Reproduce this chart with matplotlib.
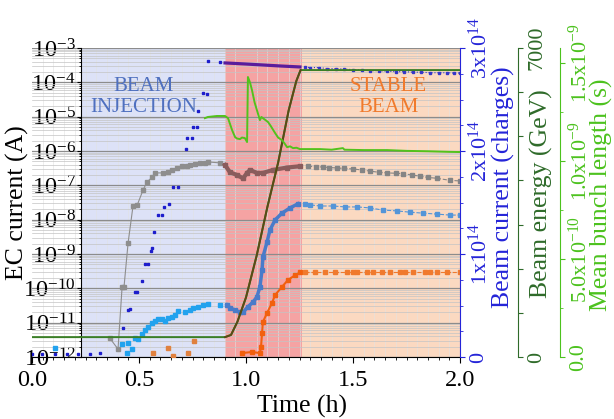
import numpy as np
import matplotlib
matplotlib.use("Agg")
import matplotlib.pyplot as plt
from matplotlib.ticker import (LogLocator, FixedLocator, FixedFormatter,
                               MultipleLocator, NullFormatter, FormatStrFormatter)

# phase boundaries (h)
T_LEFT_SPINE = 0.23
T_RAMP = 0.90
T_STABLE = 1.26

# EC current, detector 1 (grey squares)
grey_t = [0.364, 0.402, 0.421, 0.430, 0.449, 0.472, 0.491, 0.519, 0.537, 0.561,
          0.575, 0.612, 0.636, 0.654, 0.678, 0.701, 0.724, 0.738, 0.762, 0.785,
          0.808, 0.822, 0.879,
          0.902, 0.925, 0.958, 0.986, 1.005, 1.019, 1.051, 1.079, 1.126, 1.192, 1.252,
          1.290, 1.325, 1.360, 1.390, 1.425, 1.460, 1.500, 1.540, 1.579, 1.620,
          1.659, 1.700, 1.734, 1.775, 1.813, 1.850, 1.893, 1.953, 2.000]
grey_v = [3.5e-12, 1.7e-12, 1.1e-10, 1.1e-10, 2.1e-9, 2.5e-8, 2.6e-8, 7.3e-8, 1.25e-7, 1.7e-7,
          2.3e-7, 2.3e-7, 2.4e-7, 2.8e-7, 3.2e-7, 3.6e-7, 3.6e-7, 3.9e-7, 4.2e-7, 4.5e-7,
          4.5e-7, 4.8e-7, 4.5e-7,
          3.9e-7, 2.4e-7, 2.0e-7, 1.6e-7, 2.3e-7, 2.8e-7, 2.3e-7, 2.3e-7, 2.8e-7, 3.3e-7, 3.6e-7,
          3.6e-7, 3.5e-7, 3.4e-7, 3.3e-7, 3.2e-7, 3.1e-7, 3.0e-7, 2.8e-7, 2.6e-7, 2.4e-7,
          2.3e-7, 2.25e-7, 2.2e-7, 2.0e-7, 1.85e-7, 1.7e-7, 1.6e-7, 1.4e-7, 1.34e-7]

# EC current, detector 2 (light blue squares)
lblue_t = [0.107, 0.421, 0.444, 0.449, 0.467, 0.481, 0.495, 0.514, 0.528, 0.542,
           0.561, 0.575, 0.589, 0.607, 0.621, 0.636, 0.654, 0.668, 0.682, 0.715,
           0.738, 0.752, 0.776, 0.799, 0.822, 0.879,
           0.911, 0.925, 0.949, 0.972, 0.986, 1.009, 1.033, 1.051, 1.065, 1.075,
           1.079, 1.098, 1.112, 1.136, 1.168, 1.206, 1.243,
           1.276, 1.299, 1.346, 1.407, 1.463, 1.519, 1.579, 1.640, 1.706, 1.766,
           1.827, 1.893, 1.953, 2.000]
lblue_v = [1.8e-12, 2.4e-12, 1.3e-12, 2.6e-12, 1.7e-12, 3.5e-12, 3.3e-12, 4.7e-12, 6.1e-12, 7.5e-12,
           9.7e-12, 1.1e-11, 1.3e-11, 1.3e-11, 1.1e-11, 1.4e-11, 1.46e-11, 1.7e-11, 2.2e-11, 2.0e-11,
           2.3e-11, 2.7e-11, 2.9e-11, 3.3e-11, 3.5e-11, 3.3e-11,
           3.3e-11, 2.7e-11, 2.3e-11, 2.0e-11, 2.0e-11, 2.9e-11, 4.0e-11, 5.6e-11, 1.1e-10, 3.4e-10,
           8.1e-10, 2.2e-9, 5.0e-9, 9.8e-9, 1.55e-8, 2.2e-8, 2.9e-8,
           2.9e-8, 2.7e-8, 2.5e-8, 2.5e-8, 2.35e-8, 2.35e-8, 2.2e-8, 1.9e-8, 1.8e-8, 1.65e-8,
           1.55e-8, 1.45e-8, 1.36e-8, 1.36e-8]

# EC current, detector 3 (orange squares)
orange_t = [0.565, 0.636, 0.659, 0.729, 0.757,
            0.981, 1.028, 1.065, 1.070, 1.075, 1.079, 1.098, 1.121, 1.136, 1.168,
            1.196, 1.229, 1.252,
            1.276, 1.322, 1.369, 1.416, 1.472, 1.500, 1.519, 1.565, 1.593, 1.636,
            1.673, 1.720, 1.743, 1.780, 1.836, 1.860, 1.893, 1.939, 2.000]
orange_v = [1.3e-12, 1.8e-12, 1.07e-12, 1.3e-12, 2.9e-12,
            1.3e-12, 1.4e-12, 1.3e-12, 1.9e-12, 5.0e-12, 1.05e-11, 1.9e-11, 3.7e-11, 6.4e-11, 1.1e-10,
            1.75e-10, 2.4e-10, 2.9e-10,
            2.9e-10, 2.9e-10, 2.9e-10, 2.9e-10, 2.9e-10, 2.9e-10, 2.9e-10, 2.9e-10, 2.9e-10, 2.9e-10,
            2.9e-10, 2.9e-10, 2.9e-10, 2.9e-10, 2.9e-10, 2.9e-10, 2.9e-10, 2.9e-10, 2.9e-10]

# beam current (charges)
bc_t = [0.000, 0.047, 0.107, 0.164, 0.215, 0.271, 0.318, 0.425, 0.449, 0.458,
        0.481, 0.491, 0.514, 0.528, 0.542, 0.556, 0.561, 0.570, 0.589, 0.607,
        0.617, 0.640, 0.659, 0.682, 0.720, 0.724, 0.748, 0.752, 0.771, 0.776,
        0.799, 0.818, 0.822, 0.879,
        0.902, 0.995, 1.164, 1.252,
        1.276, 1.300, 1.340, 1.380, 1.420, 1.460, 1.500, 1.540, 1.580, 1.620,
        1.660, 1.700, 1.740, 1.780, 1.820, 1.860, 1.900, 1.940, 1.970, 2.000]
bc_v = [0.03e14, 0.03e14, 0.03e14, 0.03e14, 0.03e14, 0.03e14, 0.04e14, 0.28e14, 0.46e14, 0.47e14,
        0.63e14, 0.63e14, 0.74e14, 0.90e14, 0.90e14, 1.03e14, 1.06e14, 1.21e14, 1.38e14, 1.38e14,
        1.46e14, 1.49e14, 1.65e14, 1.65e14, 2.02e14, 2.13e14, 2.13e14, 2.23e14, 2.23e14, 2.39e14,
        2.56e14, 2.55e14, 2.87e14, 2.86e14,
        2.855e14, 2.845e14, 2.825e14, 2.816e14,
        2.815e14, 2.81e14, 2.81e14, 2.80e14, 2.80e14, 2.795e14, 2.79e14, 2.785e14, 2.78e14, 2.78e14,
        2.775e14, 2.77e14, 2.77e14, 2.765e14, 2.765e14, 2.76e14, 2.76e14, 2.76e14, 2.757e14, 2.757e14]

# beam energy (GeV)
en_t = [0.000, 0.902, 0.930, 0.960, 1.000, 1.050, 1.100, 1.150, 1.200, 1.235, 1.255, 2.000]
en_v = [450, 450, 500, 800, 1350, 2300, 3400, 4400, 5600, 6250, 6500, 6500]

# mean bunch length (s)
bl_t = [0.808, 0.822, 0.864, 0.902, 0.916, 0.935, 0.949, 0.958, 0.972, 0.981,
        0.995, 1.005, 1.009, 1.019, 1.028, 1.040, 1.051, 1.065, 1.072, 1.079,
        1.090, 1.103, 1.115, 1.136, 1.150, 1.168, 1.180, 1.192, 1.206, 1.220,
        1.236, 1.252, 1.285, 1.346, 1.400, 1.453, 1.460, 1.550, 1.659, 1.750,
        1.850, 1.950, 2.000]
bl_v = [1.219e-9, 1.225e-9, 1.230e-9, 1.230e-9, 1.219e-9, 1.158e-9, 1.122e-9, 1.115e-9, 1.112e-9, 1.120e-9,
        1.117e-9, 1.097e-9, 1.429e-9, 1.400e-9, 1.362e-9, 1.300e-9, 1.260e-9, 1.209e-9, 1.225e-9, 1.219e-9,
        1.210e-9, 1.199e-9, 1.180e-9, 1.143e-9, 1.120e-9, 1.107e-9, 1.090e-9, 1.071e-9, 1.075e-9, 1.066e-9,
        1.068e-9, 1.061e-9, 1.061e-9, 1.061e-9, 1.058e-9, 1.066e-9, 1.058e-9, 1.056e-9, 1.056e-9, 1.052e-9,
        1.050e-9, 1.047e-9, 1.046e-9]

x_ticks = [0.0, 0.5, 1.0, 1.5, 2.0]
bc_ticks = [0, 1e14, 2e14, 3e14]
bc_labels = ["0", r"$\mathdefault{1x10^{14}}$", r"$\mathdefault{2x10^{14}}$", r"$\mathdefault{3x10^{14}}$"]
en_ticks = [0, 1000, 2000, 3000, 4000, 5000, 6000, 7000]
en_labels = ["0", "", "", "", "", "", "", "7000"]
bl_ticks = [0, 5e-10, 1e-9, 1.5e-9]
bl_labels = ["0.0", r"$\mathdefault{5.0x10^{-10}}$", r"$\mathdefault{1.0x10^{-9}}$", r"$\mathdefault{1.5x10^{-9}}$"]

plt.rcParams["font.family"] = "Liberation Serif"
plt.rcParams["mathtext.fontset"] = "stix"

BLUE = "#2424d8"
DKGREEN = "#2f6b2a"
LTGREEN = "#4cc21e"


def phases(t):
    t = np.asarray(t)
    return [t < T_RAMP, (t >= T_RAMP) & (t < T_STABLE), t >= T_STABLE]


fig = plt.figure(figsize=(6.14, 4.19), dpi=100)
L, R, B, T = 32 / 614, 460 / 614, (419 - 357) / 419, (419 - 48) / 419
ax = fig.add_axes([L, B, R - L, T - B])

# background phases
ax.axvspan(T_LEFT_SPINE, T_RAMP, color="#dde2f7", lw=0, zorder=0)
ax.axvspan(T_RAMP, T_STABLE, color="#f5a3a3", lw=0, zorder=0)
ax.axvspan(T_STABLE, 2.0, color="#fbd9c1", lw=0, zorder=0)

ax.set_yscale("log")
ax.set_xlim(0, 2)
ax.set_ylim(1e-12, 1e-3)
ax.set_axisbelow("line")
ax.yaxis.set_major_locator(LogLocator(base=10, numticks=20))
ax.yaxis.set_minor_locator(LogLocator(base=10, subs=np.arange(2, 10), numticks=100))
ax.yaxis.set_minor_formatter(NullFormatter())
ax.grid(which="major", axis="y", color="#8c8c8c", lw=0.9)
ax.grid(which="minor", axis="y", color="#c4c4c4", lw=0.5)
ax.xaxis.set_minor_locator(MultipleLocator(0.05))
ax.grid(which="minor", axis="x", color="#e2e2e2", lw=0.4)
ax.xaxis.set_major_locator(FixedLocator(x_ticks))
ax.xaxis.set_major_formatter(FormatStrFormatter("%.1f"))

ax.spines["left"].set_position(("data", T_LEFT_SPINE))
ax.spines["top"].set_visible(False)
ax.spines["right"].set_visible(False)
ax.tick_params(axis="y", which="major", labelsize=17.5, length=3, pad=1)
ax.tick_params(axis="y", which="minor", length=1.5)
ax.tick_params(axis="x", which="major", labelsize=17.5, length=4, pad=5)
ax.tick_params(axis="x", which="minor", length=2)

# EC currents, coloured by phase
gt, gv = np.array(grey_t), np.array(grey_v)
m = phases(gt)
ax.plot(gt[m[0]], gv[m[0]], color="#8e8e8e", lw=0.8, marker="s", ms=3.2, zorder=3)
ax.plot(gt[m[1]], gv[m[1]], color="#8a5c5c", lw=3, marker="s", ms=3, zorder=3)
ax.plot(gt[m[2]], gv[m[2]], color="#858585", lw=0.8, ls="--", marker="s", ms=3, zorder=3)

lt, lv = np.array(lblue_t), np.array(lblue_v)
m = phases(lt)
ax.plot(lt[m[0]], lv[m[0]], color="#22a2ee", ls="none", marker="s", ms=3.3, zorder=3)
ax.plot(lt[m[1]], lv[m[1]], color="#4a7bc9", lw=2.5, marker="s", ms=3.3, zorder=3)
ax.plot(lt[m[2]], lv[m[2]], color="#5495d8", lw=0.8, ls="--", marker="s", ms=3.3, zorder=3)

ot, ov = np.array(orange_t), np.array(orange_v)
m = phases(ot)
ax.plot(ot[m[0]], ov[m[0]], color="#e0813f", ls="none", marker="s", ms=3.3, zorder=3)
ax.plot(ot[m[1]], ov[m[1]], color="#f2600e", lw=1.5, marker="s", ms=3.3, zorder=3)
ax.plot(ot[m[2]], ov[m[2]], color="#f07a2e", lw=0.8, ls="--", marker="s", ms=3.3, zorder=3)

ax.text(0.523, 10 ** -4.43, "BEAM\nINJECTION", color="#4f70bf", fontsize=15,
        ha="center", va="center", linespacing=1.15)
ax.text(1.664, 10 ** -4.43, "STABLE\nBEAM", color="#f07a2c", fontsize=15,
        ha="center", va="center", linespacing=1.15)

ax.set_ylabel("EC current (A)", fontsize=18.5)
ax.yaxis.set_label_coords(-0.006, 0.5)
ax.set_xlabel("Time (h)", fontsize=18.5)
ax.xaxis.set_label_coords(0.631, -0.122)

# beam current axis
ax2 = ax.twinx()
ax2.set_ylim(0, 3e14)
for s in ["top", "bottom", "left"]:
    ax2.spines[s].set_visible(False)
ax2.spines["right"].set_color(BLUE)
ax2.yaxis.set_major_locator(FixedLocator(bc_ticks))
ax2.yaxis.set_major_formatter(FixedFormatter(bc_labels))
ax2.yaxis.set_minor_locator(MultipleLocator(0.25e14))
ax2.tick_params(axis="y", which="both", colors=BLUE, labelsize=16, labelrotation=90, pad=3)
ax2.tick_params(axis="y", which="minor", length=2)
for lab in ax2.get_yticklabels():
    lab.set_va("center")
bt, bv = np.array(bc_t), np.array(bc_v)
m = phases(bt)
ax2.plot(bt[m[0]], bv[m[0]], color="#1d1dcc", ls="none", marker="s", ms=1.8)
ax2.plot(bt[m[1]], bv[m[1]], color="#5a1c9c", lw=2.3)
ax2.plot(bt[m[2]], bv[m[2]], color="#3636c8", lw=0.8, ls=":", marker="s", ms=1.8)
ax2.set_ylabel("Beam current (charges)", fontsize=18.5, color=BLUE)
ax2.yaxis.set_label_coords(1.075, 0.55)

# beam energy axis
ax3 = ax.twinx()
ax3.set_ylim(0, 7000)
for s in ["top", "bottom", "left"]:
    ax3.spines[s].set_visible(False)
ax3.spines["right"].set_position(("axes", (518 - 32) / 428))
ax3.spines["right"].set_color(DKGREEN)
ax3.yaxis.set_major_locator(FixedLocator(en_ticks))
ax3.yaxis.set_major_formatter(FixedFormatter(en_labels))
ax3.tick_params(axis="y", colors=DKGREEN, labelsize=16, labelrotation=90, pad=3)
for lab in ax3.get_yticklabels():
    lab.set_va("center")
et, ev = np.array(en_t), np.array(en_v)
ax3.plot(et, ev, color="#3a7f26", lw=1.4)
m = (et >= T_RAMP) & (et <= 1.26)
ax3.plot(et[m], ev[m], color="#5a4a16", lw=1.4)
ax3.set_ylabel("Beam energy (GeV)", fontsize=18.5, color=DKGREEN)
ax3.yaxis.set_label_coords((530 - 32) / 428, 0.53)

# bunch length axis
ax4 = ax.twinx()
ax4.set_ylim(0, 1.577e-9)
for s in ["top", "bottom", "left"]:
    ax4.spines[s].set_visible(False)
ax4.spines["right"].set_position(("axes", (560 - 32) / 428))
ax4.spines["right"].set_color(LTGREEN)
ax4.yaxis.set_major_locator(FixedLocator(bl_ticks))
ax4.yaxis.set_major_formatter(FixedFormatter(bl_labels))
ax4.yaxis.set_minor_locator(MultipleLocator(2.5e-10))
ax4.tick_params(axis="y", which="both", colors=LTGREEN, labelsize=16, labelrotation=90, pad=3)
ax4.tick_params(axis="y", which="minor", length=2)
for lab in ax4.get_yticklabels():
    lab.set_va("center")
ax4.plot(bl_t, bl_v, color="#52c21c", lw=1.4)
ax4.set_ylabel("Mean bunch length (s)", fontsize=18.5, color=LTGREEN)
ax4.yaxis.set_label_coords((590 - 32) / 428, 0.524)

fig.savefig("out.png", dpi=100)
